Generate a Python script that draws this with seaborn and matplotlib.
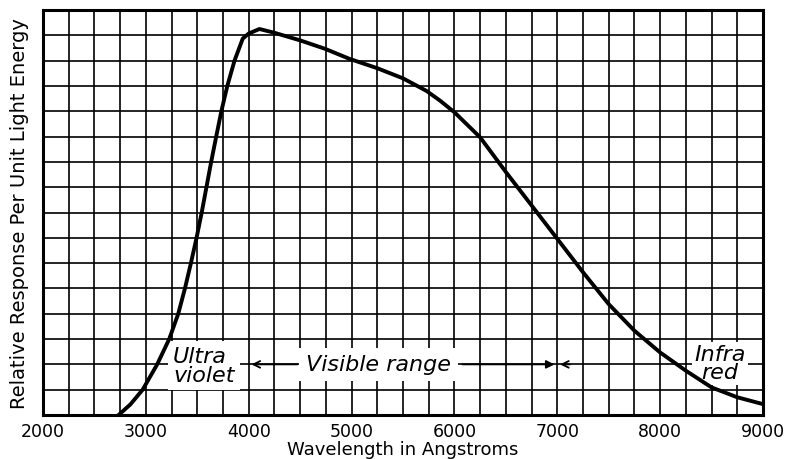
import matplotlib
matplotlib.use("Agg")
import matplotlib.pyplot as plt
import seaborn as sns
import pandas as pd
import numpy as np

# Data
wavelength = [2735, 2850, 2969, 3110, 3227, 3315, 3380, 3438, 3493, 3543, 3589, 3635,
              3684, 3734, 3792, 3862, 3942, 4000, 4104, 4250, 4500, 4740, 4980, 5250,
              5500, 5730, 5860, 6000, 6250, 6500, 6750, 7000, 7250, 7500, 7750, 8000,
              8250, 8500, 8750, 9000]
response = [0.0, 0.42, 1.0, 2.0, 3.0, 4.0, 5.0, 6.0, 7.0, 8.0, 9.0, 10.0,
            11.0, 12.0, 13.0, 14.0, 14.87, 15.07, 15.25, 15.1, 14.8, 14.47, 14.07, 13.7,
            13.3, 12.8, 12.42, 11.96, 10.97, 9.6, 8.28, 6.96, 5.64, 4.38, 3.33, 2.47,
            1.75, 1.09, 0.70, 0.43]
x_major = [2000, 3000, 4000, 5000, 6000, 7000, 8000, 9000]

df = pd.DataFrame({"wavelength": wavelength, "response": response})

sns.set_theme(style="white")
plt.rcParams["font.family"] = ["DejaVu Sans"]
plt.rcParams["text.color"] = "black"

fig = plt.figure(figsize=(7.89, 4.6), dpi=100)
ax = fig.add_axes([43 / 789, 1 - 416 / 460, 720 / 789, 405 / 460])

sns.lineplot(data=df, x="wavelength", y="response", ax=ax, color="black",
             linewidth=2.8, zorder=5, solid_joinstyle="round", solid_capstyle="round")

ax.set_xlim(2000, 9000)
ax.set_ylim(0, 16)

# grid every 250 A and every unit vertically
xt = np.arange(2000, 9001, 250)
ax.set_xticks(xt)
ax.set_xticklabels([str(int(v)) if int(v) in x_major else "" for v in xt], fontsize=12.5)
ax.set_yticks(np.arange(0, 17, 1))
ax.set_yticklabels([])
ax.tick_params(axis="both", length=0, pad=5, colors="black")
ax.grid(True, color="black", linewidth=1.2, zorder=1)
ax.set_axisbelow(True)
for s in ax.spines.values():
    s.set_visible(True)
    s.set_color("black")
    s.set_linewidth(2.2)

ax.set_xlabel("Wavelength in Angstroms", fontsize=13, labelpad=0, color="black")
ax.set_ylabel("Relative Response Per Unit Light Energy", fontsize=14, labelpad=5,
              color="black")

# annotations
ax.text(3265, 1.95, "Ultra\nviolet", fontsize=16, style="italic", ha="left",
        va="center", linespacing=0.9, zorder=3, color="black",
        bbox=dict(boxstyle="square,pad=0.25", fc="white", ec="none"))
ax.text(5262, 2.0, "Visible range", fontsize=16, style="italic", ha="center",
        va="center", zorder=3, color="black",
        bbox=dict(boxstyle="square,pad=0.3", fc="white", ec="none"))
ax.text(8582, 2.05, "Infra\nred", fontsize=16, style="italic", ha="center",
        va="center", linespacing=0.9, zorder=3, color="black",
        bbox=dict(boxstyle="square,pad=0.1", fc="white", ec="none"))

ax.annotate("", xy=(4000, 2.0), xytext=(4500, 2.0), zorder=4,
            arrowprops=dict(arrowstyle="->", color="black", lw=1.3))
ax.annotate("", xy=(7000, 2.0), xytext=(6050, 2.0), zorder=4,
            arrowprops=dict(arrowstyle="-|>", color="black", lw=1.3,
                            mutation_scale=12))
ax.annotate("", xy=(7000, 2.0), xytext=(7150, 2.0), zorder=4,
            arrowprops=dict(arrowstyle="->", color="black", lw=1.3))

fig.savefig("out.png", dpi=100)
